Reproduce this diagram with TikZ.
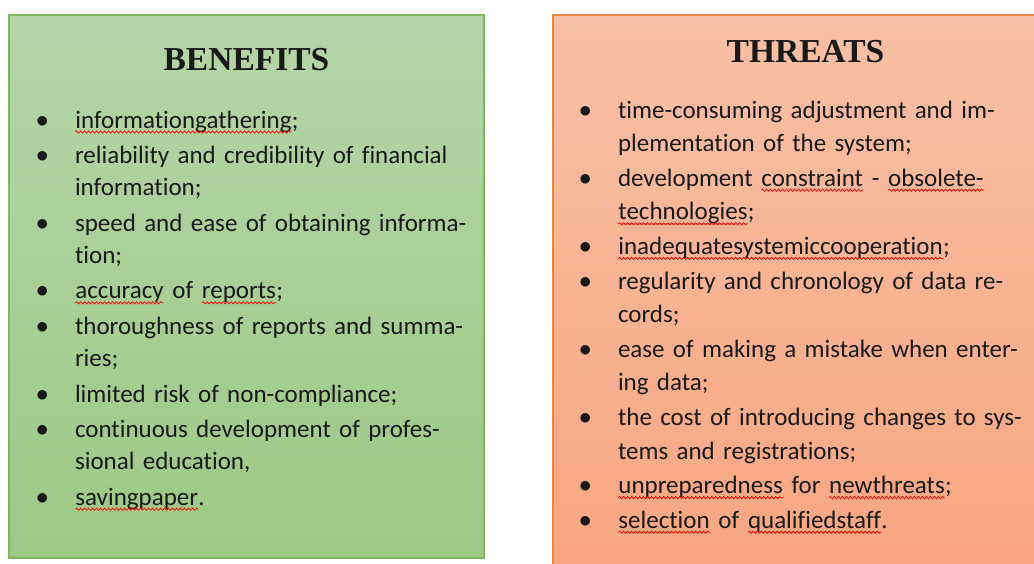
\documentclass[tikz,border=0pt]{standalone}
\usepackage{fontspec}
\setmainfont{Carlito}[Ligatures=NoCommon]
\newfontfamily\titlefont{Liberation Serif}
\usetikzlibrary{positioning,decorations.pathmorphing}

\definecolor{benline}{RGB}{125,185,91}
\definecolor{bentop}{RGB}{182,213,167}
\definecolor{benbot}{RGB}{156,201,133}
\definecolor{thrline}{RGB}{237,132,64}
\definecolor{thrtop}{RGB}{248,192,166}
\definecolor{thrbot}{RGB}{248,165,128}
\definecolor{ink}{RGB}{25,25,25}

% bullet hanging left of the item text
\newcommand{\bul}{\leavevmode\llap{\makebox[39pt][l]{\raisebox{1pt}{$\bullet$}}}\strut}
% word with a red wavy underline
\newcommand{\spell}[1]{\tikz[baseline=(sp.base)]{\node[inner sep=0pt,outer sep=0pt] (sp) {#1};
  \draw[wavy] ([yshift=-4pt]sp.base west) -- ([yshift=-4pt]sp.base east);}}

\begin{document}
\begin{tikzpicture}[x=1pt,y=1pt,
            box/.style={draw,rectangle,anchor=north west,line width=1.5pt,outer sep=0pt,inner sep=0pt},
            benbox/.style={box,draw=benline,top color=bentop,bottom color=benbot,minimum width=475pt,minimum height=543pt},
            thrbox/.style={box,draw=thrline,top color=thrtop,bottom color=thrbot,minimum width=505pt,minimum height=562pt},
            title/.style={font=\titlefont\bfseries\fontsize{33.5}{38}\selectfont,inner sep=0pt,text=ink},
            item/.style={align=left,text width=440pt,inner sep=0pt,outer sep=0pt,text=ink},
            litem/.style={item,font=\fontsize{25}{32}\selectfont},
            ritem/.style={item,font=\fontsize{25}{33.6}\selectfont},
            wavy/.style={draw=red,line width=.75pt,decorate,decoration={snake,amplitude=1.1pt,segment length=4pt}}
          ]
          \useasboundingbox (0,0) rectangle (1034,-563);
          \clip (0,0) rectangle (1034,-563);

          \node[benbox] (lbox) at (9,-15) {};
          \node[thrbox] (rbox) at (553,-15) {};

          %titles
          \node[title,below=55pt of lbox.north,anchor=base] (bentitle) {BENEFITS};
          \node[title,below=47pt of rbox.north,anchor=base] (thrtitle) {THREATS};

          %benefits
          \node[litem,below right=90.6pt and 66pt of lbox.north west] (b1) {\bul\spell{informationgathering};};
          \node[litem,below right=3.6pt and 0pt of b1.south west] (b2) {\bul reliability and credibility of financial\\information;\strut};
          \node[litem,below right=3.6pt and 0pt of b2.south west] (b3) {\bul speed and ease of obtaining informa-\\tion;\strut};
          \node[litem,below right=3.6pt and 0pt of b3.south west] (b4) {\bul\spell{accuracy} of \spell{reports};};
          \node[litem,below right=3.6pt and 0pt of b4.south west] (b5) {\bul thoroughness of reports and summa-\\ries;\strut};
          \node[litem,below right=3.6pt and 0pt of b5.south west] (b6) {\bul limited risk of non-compliance;};
          \node[litem,below right=3.6pt and 0pt of b6.south west] (b7) {\bul continuous development of profes-\\sional education,\strut};
          \node[litem,below right=3.6pt and 0pt of b7.south west] (b8) {\bul\spell{savingpaper}.};

          %threats
          \node[ritem,below right=79.5pt and 65pt of rbox.north west] (t1) {\bul time-consuming adjustment and im-\\plementation of the system;\strut};
          \node[ritem,below right=1pt and 0pt of t1.south west] (t2) {\bul development \spell{constraint} - \spell{obsolete-}\\\spell{technologies};\strut};
          \node[ritem,below right=1pt and 0pt of t2.south west] (t3) {\bul\spell{inadequatesystemiccooperation};};
          \node[ritem,below right=1pt and 0pt of t3.south west] (t4) {\bul regularity and chronology of data re-\\cords;\strut};
          \node[ritem,below right=1pt and 0pt of t4.south west] (t5) {\bul ease of making a mistake when enter-\\ing data;\strut};
          \node[ritem,below right=1pt and 0pt of t5.south west] (t6) {\bul the cost of introducing changes to sys-\\tems and registrations;\strut};
          \node[ritem,below right=1pt and 0pt of t6.south west] (t7) {\bul\spell{unpreparedness} for \spell{newthreats};};
          \node[ritem,below right=1pt and 0pt of t7.south west] (t8) {\bul\spell{selection} of \spell{qualifiedstaff}.};
      \end{tikzpicture}
\end{document}
